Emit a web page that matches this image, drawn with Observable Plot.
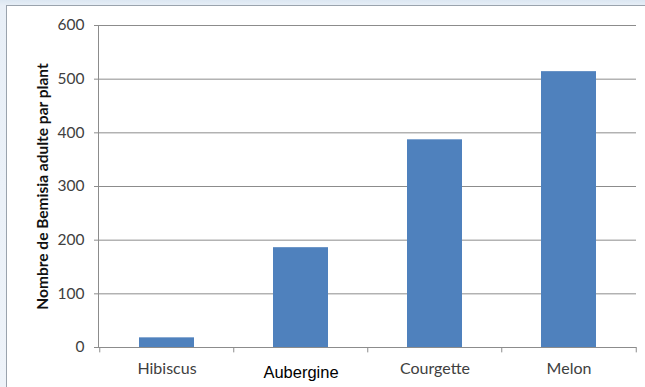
<!DOCTYPE html>
<html><head><meta charset="utf-8">
<script src="https://cdn.jsdelivr.net/npm/d3@7"></script>
<script src="https://cdn.jsdelivr.net/npm/@observablehq/plot@0.6"></script>
<style>
html,body{margin:0;padding:0;}
body{width:645px;height:387px;overflow:hidden;position:relative;background:linear-gradient(180deg,#dce7f2 0px,#e8eff7 6px,#eef3f9 100%);}
#panel{position:absolute;left:6px;top:5px;width:650px;height:400px;background:#fff;border-left:1px solid #9aa3ad;border-top:1px solid #9aa3ad;}
#chart{position:absolute;left:0;top:0;}
#chart svg [aria-label="y-axis label"] text{font-weight:bold;fill:#111;font-size:15.5px;}
</style></head>
<body>
<div id="panel"></div>
<div id="chart"></div>
<script>
const categories = ["Hibiscus", "Aubergine", "Courgette", "Melon"];
const values = [18, 186, 387, 514];
const yTicks = [0, 100, 200, 300, 400, 500, 600];
const yLabel = "Nombre de Bemisia adulte par plant";

const data = categories.map((c, i) => ({cat: c, val: values[i]}));
const W = 645, H = 387, mL = 98, mR = 9, mT = 25, mB = 40;
const step = (W - mL - mR) / categories.length;
const boundaries = categories.map((c, i) => ({cat: c, dx: -step / 2}))
  .concat([{cat: categories[categories.length - 1], dx: step / 2}]);

const chart = Plot.plot({
  width: W, height: H,
  marginLeft: mL, marginRight: mR, marginTop: mT, marginBottom: mB,
  style: {background: "transparent", fontFamily: "Lato, sans-serif", fontSize: "15.5px", color: "#404040"},
  x: {domain: categories, paddingInner: 0.59, paddingOuter: 0.295, align: 0.5},
  y: {domain: [0, 600]},
  marks: [
    Plot.gridY(yTicks, {stroke: "#8c8c8c", strokeOpacity: 1, x1: null}),
    Plot.axisY({ticks: yTicks, tickSize: 4, tickPadding: 10, stroke: "#8c8c8c", fill: "#404040",
      label: yLabel, labelAnchor: "center", labelArrow: "none", labelOffset: 62, fontSize: 15.5}),
    Plot.barY(data, {x: "cat", y: "val", fill: "#4f81bd"}),
    Plot.frame({anchor: "left", stroke: "#8c8c8c"}),
    Plot.ruleY([0], {stroke: "#8c8c8c"}),
    ...boundaries.map(b => Plot.ruleX([b], {x: "cat", y1: 0, y2: -10, dx: b.dx, stroke: "#8c8c8c"})),
    Plot.axisX({tickSize: 0, label: null, tickFormat: () => ""}),
    Plot.text(data.filter(d => d.cat !== "Aubergine"), {x: "cat", y: 0, text: "cat", dy: 21, fill: "#404040", fontSize: 16, fontFamily: "Lato, sans-serif"}),
    Plot.text(data.filter(d => d.cat === "Aubergine"), {x: "cat", y: 0, text: "cat", dy: 25, fill: "#000", fontSize: 16.5, fontFamily: "Liberation Sans, Arial, sans-serif"})
  ]
});
document.getElementById("chart").appendChild(chart);
</script>
</body></html>
